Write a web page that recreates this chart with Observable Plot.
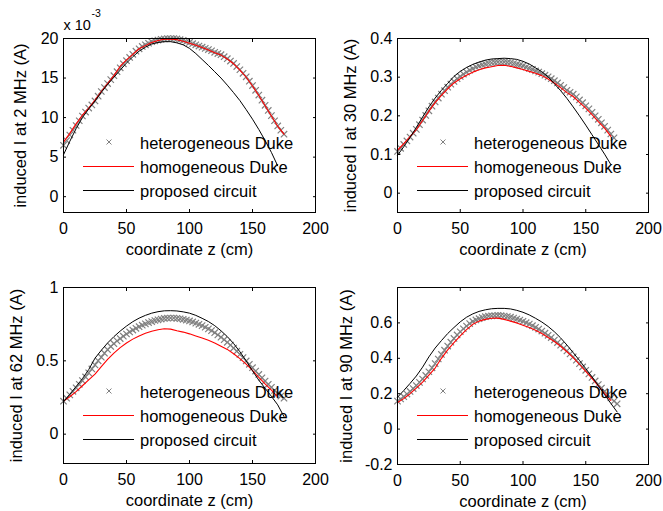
<!DOCTYPE html>
<html><head><meta charset="utf-8">
<script src="https://cdn.jsdelivr.net/npm/d3@7"></script>
<script src="https://cdn.jsdelivr.net/npm/@observablehq/plot@0.6"></script>
<style>
html,body{margin:0;padding:0;background:#fff;}
#chart{position:relative;width:663px;height:511px;background:#fff;overflow:hidden;}
#chart svg{position:absolute;}
</style></head><body><div id="chart"></div>
<script>
// ---------- data ----------
const xTicks = [0, 50, 100, 150, 200];
const xLabel = "coordinate z (cm)";
const legendLabels = ["heterogeneous Duke", "homogeneous Duke", "proposed circuit"];

// z positions (cm) for the line series
const zLine = [0,5,10,15,20,25,30,35,40,45,50,55,60,65,70,75,80,85,90,95,100,105,110,115,120,125,130,135,140,145,150,155,160,165,170,175];
// z positions (cm) for the heterogeneous-model markers
const zHetero = [0,2.5,5,7.5,10,12.5,15,17.5,20,22.5,25,27.5,30,32.5,35,37.5,40,42.5,45,47.5,50,52.5,55,57.5,60,62.5,65,67.5,70,72.5,75,77.5,80,82.5,85,87.5,90,92.5,95,97.5,100,102.5,105,107.5,110,112.5,115,117.5,120,122.5,125,127.5,130,132.5,135,137.5,140,142.5,145,147.5,150,152.5,155,157.5,160,162.5,165,167.5,170,172.5,175];

// 2 MHz (values in units of 10^-3 A)
const yLabel2 = "induced I at 2 MHz (A)";
const yTicks2 = [0, 5, 10, 15, 20];
const hetero2 = [6.5,7.1,7.8,8.4,9.0,9.6,10.2,10.7,11.2,11.6,12.1,12.7,13.3,13.8,14.3,14.8,15.3,15.8,16.3,16.8,17.2,17.6,18.0,18.4,18.7,19.0,19.2,19.4,19.6,19.7,19.8,19.9,19.95,20.0,20.0,20.0,19.95,19.85,19.75,19.6,19.5,19.35,19.2,19.05,18.9,18.75,18.6,18.45,18.25,18.1,17.95,17.7,17.45,17.15,16.85,16.45,16.05,15.6,15.15,14.6,14.05,13.45,12.85,12.2,11.55,10.9,10.25,9.6,8.95,8.4,7.9];
const homog2 = [6.9,8.0,9.2,10.3,11.2,12.2,13.3,14.3,15.3,16.5,17.3,18.0,18.7,19.1,19.5,19.75,19.9,19.95,19.85,19.65,19.4,19.15,18.85,18.55,18.2,17.9,17.4,16.8,16.0,15.1,14.0,12.8,11.5,10.2,8.9,7.9];
const proposed2 = [5.3,7.0,8.6,10.0,11.1,12.1,13.2,14.2,15.1,16.0,16.9,17.7,18.4,18.9,19.3,19.5,19.6,19.6,19.45,19.2,18.75,18.1,17.35,16.6,15.8,15.0,14.1,13.15,12.15,11.0,9.8,8.5,7.1,5.6,3.9,null];

// 30 MHz (A)
const yLabel30 = "induced I at 30 MHz (A)";
const yTicks30 = [0, 0.1, 0.2, 0.3, 0.4];
const hetero30 = [0.108,0.116,0.126,0.135,0.145,0.155,0.165,0.177,0.189,0.201,0.213,0.225,0.236,0.246,0.256,0.265,0.274,0.282,0.289,0.296,0.302,0.308,0.313,0.318,0.322,0.326,0.329,0.332,0.334,0.336,0.337,0.338,0.339,0.339,0.339,0.338,0.337,0.335,0.333,0.331,0.329,0.326,0.323,0.320,0.316,0.313,0.309,0.305,0.301,0.296,0.291,0.285,0.279,0.273,0.266,0.261,0.256,0.249,0.241,0.234,0.226,0.218,0.209,0.200,0.191,0.182,0.173,0.163,0.153,0.143,null];
const homog30 = [0.111,0.128,0.146,0.164,0.188,0.212,0.234,0.253,0.270,0.285,0.296,0.305,0.313,0.319,0.324,0.327,0.330,0.331,0.328,0.324,0.320,0.315,0.310,0.304,0.295,0.285,0.273,0.260,0.250,0.235,0.220,0.203,0.185,0.168,0.147,null];
const proposed30 = [0.098,0.120,0.144,0.170,0.197,0.223,0.246,0.266,0.284,0.302,0.315,0.325,0.333,0.339,0.344,0.347,0.348,0.349,0.348,0.346,0.341,0.334,0.324,0.314,0.301,0.283,0.265,0.245,0.223,0.200,0.176,0.151,0.126,0.101,0.074,null];

// 62 MHz (A)
const yLabel62 = "induced I at 62 MHz (A)";
const yTicks62 = [0, 0.5, 1];
const hetero62 = [0.225,0.245,0.268,0.292,0.316,0.340,0.365,0.390,0.418,0.445,0.472,0.500,0.525,0.552,0.576,0.598,0.617,0.636,0.652,0.668,0.683,0.697,0.710,0.722,0.733,0.743,0.752,0.761,0.768,0.775,0.780,0.785,0.789,0.791,0.792,0.792,0.790,0.787,0.783,0.778,0.772,0.765,0.757,0.749,0.740,0.729,0.718,0.706,0.692,0.677,0.661,0.644,0.626,0.607,0.587,0.566,0.544,0.522,0.499,0.476,0.453,0.430,0.407,0.384,0.362,0.340,0.319,0.298,0.278,0.260,0.245];
const homog62 = [0.225,0.255,0.290,0.330,0.370,0.410,0.460,0.510,0.553,0.590,0.622,0.648,0.670,0.688,0.702,0.712,0.719,0.716,0.705,0.696,0.684,0.670,0.656,0.640,0.622,0.600,0.578,0.548,0.515,0.478,0.435,0.388,0.343,0.300,0.255,null];
const proposed62 = [0.220,0.272,0.325,0.378,0.440,0.518,0.572,0.622,0.665,0.703,0.737,0.767,0.791,0.810,0.825,0.835,0.841,0.842,0.840,0.834,0.825,0.810,0.790,0.768,0.740,0.705,0.665,0.618,0.562,0.500,0.432,0.368,0.313,0.258,0.200,0.120];

// 90 MHz (A)
const yLabel90 = "induced I at 90 MHz (A)";
const yTicks90 = [-0.2, 0, 0.2, 0.4, 0.6];
const hetero90 = [0.158,0.170,0.183,0.198,0.213,0.229,0.246,0.264,0.283,0.303,0.324,0.346,0.370,0.396,0.422,0.446,0.469,0.491,0.512,0.532,0.550,0.567,0.582,0.596,0.608,0.617,0.624,0.630,0.635,0.638,0.640,0.641,0.642,0.641,0.639,0.636,0.632,0.627,0.622,0.616,0.609,0.601,0.593,0.584,0.575,0.565,0.554,0.542,0.530,0.517,0.503,0.489,0.474,0.458,0.442,0.425,0.408,0.389,0.370,0.351,0.332,0.312,0.292,0.272,0.252,0.232,0.213,0.194,0.176,0.158,0.143];
const homog90 = [0.150,0.172,0.200,0.232,0.265,0.305,0.345,0.400,0.448,0.488,0.527,0.562,0.592,0.610,0.620,0.626,0.627,0.620,0.610,0.600,0.587,0.574,0.559,0.540,0.518,0.495,0.468,0.437,0.404,0.365,0.326,0.286,0.244,0.202,0.162,null];
const proposed90 = [0.180,0.218,0.258,0.300,0.350,0.408,0.458,0.500,0.540,0.574,0.606,0.632,0.651,0.665,0.674,0.680,0.682,0.682,0.679,0.671,0.660,0.645,0.626,0.605,0.580,0.550,0.515,0.475,0.432,0.388,0.342,0.295,0.246,0.195,0.145,0.097];

// ---------- drawing ----------
const FONT = "'Liberation Sans', Arial, Helvetica, sans-serif";
const HET = "#808080";

function panel(cfg) {
  const het = zHetero.map((z, i) => ({z, v: cfg.hetero[i]})).filter(d => d.v != null);
  const hom = zLine.map((z, i) => ({z, v: cfg.homog[i]}));
  const pro = zLine.map((z, i) => ({z, v: cfg.proposed[i]}));
  const marks = [
    Plot.dot(het, {x: "z", y: "v", symbol: "times", r: 3, stroke: HET, strokeWidth: 1.2}),
    Plot.line(hom, {x: "z", y: "v", stroke: "#ff0000", strokeWidth: 1.1}),
    Plot.line(pro, {x: "z", y: "v", stroke: "#000000", strokeWidth: 1}),
    Plot.frame({stroke: "#000", strokeWidth: 1}),
    Plot.axisX({ticks: xTicks, anchor: "bottom", tickSize: 0, tickPadding: 10, tickFormat: d => String(d), label: null}),
    Plot.axisX({ticks: xTicks, anchor: "bottom", tickSize: -3, tickFormat: () => "", label: null}),
    Plot.axisX({ticks: xTicks, anchor: "top", tickSize: -3, tickFormat: () => "", label: null}),
    Plot.axisY({ticks: cfg.yTicks, anchor: "left", tickSize: 0, tickPadding: 5, tickFormat: d => String(d), label: null}),
    Plot.axisY({ticks: cfg.yTicks, anchor: "left", tickSize: -3, tickFormat: () => "", label: null}),
    Plot.axisY({ticks: cfg.yTicks, anchor: "right", tickSize: -3, tickFormat: () => "", label: null}),
    Plot.text([xLabel], {text: d => d, frameAnchor: "bottom", textAnchor: "middle", lineAnchor: "middle", dy: 37.5, fontSize: 16.5, fill: "#000"}),
    Plot.text([cfg.yLabel], {text: d => d, frameAnchor: "left", textAnchor: "middle", lineAnchor: "middle", dx: cfg.ylabDx, rotate: -90, fontSize: 16.5, fill: "#000"})
  ];
  if (cfg.multiplier) {
    marks.push(Plot.text(["x 10"], {text: d => d, frameAnchor: "top-left", textAnchor: "start", lineAnchor: "middle", dx: 0, dy: -13, fontSize: 14.5, fill: "#000"}));
    marks.push(Plot.text(["-3"], {text: d => d, frameAnchor: "top-left", textAnchor: "start", lineAnchor: "middle", dx: 28, dy: -25, fontSize: 10.5, fill: "#000"}));
  }
  const svg = Plot.plot({
    width: cfg.width, height: cfg.height,
    marginLeft: cfg.mL, marginRight: cfg.mR, marginTop: cfg.mT, marginBottom: cfg.mB,
    x: {domain: [0, 200]},
    y: {domain: cfg.yDomain},
    style: {fontSize: "16px", fontFamily: FONT, color: "#000", background: "transparent", overflow: "visible"},
    marks
  });
  svg.style.left = cfg.left + "px";
  svg.style.top = cfg.top + "px";
  // legend (no box), placed relative to the frame like the original
  const fl = cfg.mL, ft = cfg.mT;
  const g = d3.select(svg).append("g").attr("font-family", FONT).attr("font-size", 16.5).attr("fill", "#000");
  const rows = [ft + 104, ft + 128.5, ft + 152.5];
  g.append("path").attr("d", d3.symbol(d3.symbolTimes, 18)()).attr("transform", `translate(${fl + 46},${rows[0]})`).attr("stroke", HET).attr("fill", "none");
  g.append("line").attr("x1", fl + 20).attr("x2", fl + 71).attr("y1", rows[1]).attr("y2", rows[1]).attr("stroke", "#ff0000");
  g.append("line").attr("x1", fl + 20).attr("x2", fl + 71).attr("y1", rows[2]).attr("y2", rows[2]).attr("stroke", "#000");
  legendLabels.forEach((t, i) => {
    g.append("text").attr("x", fl + 77).attr("y", rows[i] + 6.5).attr("text-anchor", "start").text(t);
  });
  return svg;
}

const chart = document.getElementById("chart");
chart.appendChild(panel({left: 0, top: 0, width: 330, height: 255, mL: 63, mR: 15, mT: 38, mB: 43,
  yDomain: [-2, 20], yTicks: yTicks2, yLabel: yLabel2, ylabDx: -43, hetero: hetero2, homog: homog2, proposed: proposed2, multiplier: true}));
chart.appendChild(panel({left: 330, top: 0, width: 333, height: 255, mL: 67, mR: 15, mT: 38, mB: 43,
  yDomain: [-0.05, 0.4], yTicks: yTicks30, yLabel: yLabel30, ylabDx: -47, hetero: hetero30, homog: homog30, proposed: proposed30}));
chart.appendChild(panel({left: 0, top: 255, width: 330, height: 256, mL: 63, mR: 15, mT: 32, mB: 48,
  yDomain: [-0.2, 1], yTicks: yTicks62, yLabel: yLabel62, ylabDx: -47, hetero: hetero62, homog: homog62, proposed: proposed62}));
chart.appendChild(panel({left: 330, top: 255, width: 333, height: 256, mL: 67, mR: 15, mT: 32, mB: 47,
  yDomain: [-0.2, 0.8], yTicks: yTicks90, yLabel: yLabel90, ylabDx: -51, hetero: hetero90, homog: homog90, proposed: proposed90}));
</script></body></html>
